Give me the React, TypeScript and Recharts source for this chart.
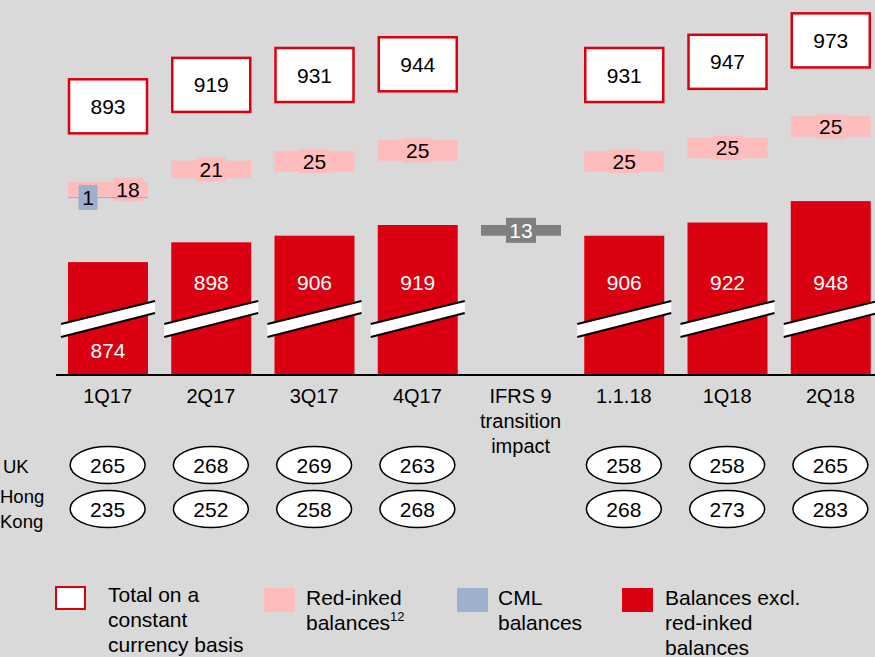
import { BarChart, Bar, XAxis, YAxis } from 'recharts';

const categories = ['1Q17', '2Q17', '3Q17', '4Q17', 'IFRS 9\ntransition\nimpact', '1.1.18', '1Q18', '2Q18'];
const balances = [874, 898, 906, 919, null, 906, 922, 948];
const cmlBalances = [1, null, null, null, null, null, null, null];
const redInked = [18, 21, 25, 25, null, 25, 25, 25];
const totals = [893, 919, 931, 944, null, 931, 947, 973];
const ifrsImpact = [null, null, null, null, -13, null, null, null];
const ukValues = [265, 268, 269, 263, null, 258, 258, 265];
const hkValues = [235, 252, 258, 268, null, 268, 273, 283];

// broken axis: the scale only shows the top of each bar, the stacked
// pieces float above it with fixed visual gaps
const AXIS_MIN = 737;
const AXIS_MAX = 1192;
const GAP_PINK = 78;
const GAP_TOTAL = 58;
const BOX_H = 68;

const RED = '#db0011';
const PINK = '#ffbcbc';
const BLUE = '#9eb0cd';
const GREY = '#7f7f7f';
const BG = '#d9d9d9';
const FONT = '"Liberation Sans", Arial, sans-serif';
const NUM_SIZE = 21;

const data = categories.map((name, i) => {
  const base = balances[i];
  const cml = cmlBalances[i] ?? 0;
  const pinkLo = base != null ? base + GAP_PINK + cml : null;
  const pinkHi = pinkLo != null && redInked[i] != null ? pinkLo + (redInked[i] as number) : null;
  const totLo = pinkHi != null ? pinkHi + GAP_TOTAL : null;
  const prev = i > 0 ? balances[i - 1] : null;
  return {
    name,
    balance: base,
    cml: cmlBalances[i],
    redInked: redInked[i],
    total: totals[i],
    ifrs: ifrsImpact[i],
    cmlRange: cmlBalances[i] != null && base != null ? [base + GAP_PINK, base + GAP_PINK + cml] : null,
    pinkRange: pinkLo != null && pinkHi != null ? [pinkLo, pinkHi] : null,
    totalRange: totLo != null ? [totLo, totLo + BOX_H] : null,
    ifrsRange: ifrsImpact[i] != null && prev != null ? [prev + (ifrsImpact[i] as number), prev] : null,
    uk: ukValues[i],
    hk: hkValues[i],
  };
});

function box(props: any) {
  const top = Math.min(props.y, props.y + props.height);
  const h = Math.abs(props.height);
  return { x: props.x, top, h, w: props.width, cx: props.x + props.width / 2, cy: top + h / 2 };
}

function RedShape(props: any) {
  const { x, top, h, w, cx } = box(props);
  const base = top + h;
  const labelY = top > base - 118 ? base - 25 : base - 93;
  const l = x - 7;
  const r = x + w + 7;
  return (
    <g>
      <rect x={x} y={top} width={w} height={h} fill={RED} />
      <polygon points={`${l},${base - 51} ${r},${base - 74} ${r},${base - 62} ${l},${base - 38}`} fill="#fff" />
      <line x1={l} y1={base - 51} x2={r} y2={base - 74} stroke="#000" strokeWidth={2} />
      <line x1={l} y1={base - 38} x2={r} y2={base - 62} stroke="#000" strokeWidth={2} />
      <text x={cx} y={labelY} fill="#fff" fontSize={NUM_SIZE} textAnchor="middle" dominantBaseline="central" fontFamily={FONT}>
        {props.payload.balance}
      </text>
    </g>
  );
}

function PinkShape(props: any) {
  const { x, top, h, w, cx, cy } = box(props);
  const lx = props.payload.cml ? cx + 20 : cx;
  return (
    <g>
      <rect x={x} y={top} width={w} height={h} fill={PINK} />
      <rect x={lx - 15} y={cy - 12} width={30} height={24} fill={PINK} />
      <text x={lx} y={cy} fill="#000" fontSize={NUM_SIZE} textAnchor="middle" dominantBaseline="central" fontFamily={FONT}>
        {props.payload.redInked}
      </text>
    </g>
  );
}

function CmlShape(props: any) {
  const { x, top, h, w, cx, cy } = box(props);
  return (
    <g>
      <rect x={x} y={top} width={w} height={Math.max(h, 1.2)} fill={BLUE} />
      <rect x={cx - 29.5} y={cy - 12.5} width={19} height={25} fill={BLUE} />
      <text x={cx - 20} y={cy} fill="#000" fontSize={NUM_SIZE} textAnchor="middle" dominantBaseline="central" fontFamily={FONT}>
        {props.payload.cml}
      </text>
    </g>
  );
}

function TotalShape(props: any) {
  const { x, top, h, w, cx, cy } = box(props);
  return (
    <g>
      <rect x={x + 1} y={top + 1} width={w - 2} height={h - 2} fill="#fff" stroke={RED} strokeWidth={2.5} />
      <text x={cx} y={cy} fill="#000" fontSize={NUM_SIZE} textAnchor="middle" dominantBaseline="central" fontFamily={FONT}>
        {props.payload.total}
      </text>
    </g>
  );
}

function IfrsShape(props: any) {
  const { x, top, h, w, cx, cy } = box(props);
  return (
    <g>
      <rect x={x} y={top} width={w} height={h} fill={GREY} />
      <rect x={cx - 15} y={cy - 12.5} width={30} height={25} fill={GREY} />
      <text x={cx} y={cy} fill="#fff" fontSize={NUM_SIZE} textAnchor="middle" dominantBaseline="central" fontFamily={FONT}>
        {Math.abs(props.payload.ifrs)}
      </text>
    </g>
  );
}

function CategoryTick(props: any) {
  const { x, y, payload, index } = props;
  const lines = String(payload.value).split('\n');
  const uk = ukValues[index];
  const hk = hkValues[index];
  return (
    <g fontFamily={FONT}>
      {lines.map((t, k) => (
        <text key={k} x={x} y={y + 21 + k * 25} fill="#000" fontSize={20} textAnchor="middle" dominantBaseline="central">
          {t}
        </text>
      ))}
      {uk != null && (
        <g>
          <ellipse cx={x} cy={y + 90} rx={37.5} ry={18.5} fill="#fff" stroke="#000" strokeWidth={1.5} />
          <text x={x} y={y + 90} fontSize={NUM_SIZE} textAnchor="middle" dominantBaseline="central" fill="#000">{uk}</text>
        </g>
      )}
      {hk != null && (
        <g>
          <ellipse cx={x} cy={y + 134} rx={37.5} ry={18.5} fill="#fff" stroke="#000" strokeWidth={1.5} />
          <text x={x} y={y + 134} fontSize={NUM_SIZE} textAnchor="middle" dominantBaseline="central" fill="#000">{hk}</text>
        </g>
      )}
    </g>
  );
}

const legendItems = [
  { icon: { left: 55, top: 586, fill: '#fff', border: `2.5px solid ${RED}` }, textLeft: 108, textTop: 582, lines: ['Total on a', 'constant', 'currency basis'] },
  { icon: { left: 264, top: 588, fill: PINK, border: 'none' }, textLeft: 306, textTop: 585, lines: ['Red-inked', 'balances'] },
  { icon: { left: 457, top: 588, fill: BLUE, border: 'none' }, textLeft: 498, textTop: 585, lines: ['CML', 'balances'] },
  { icon: { left: 622, top: 588, fill: RED, border: 'none' }, textLeft: 665, textTop: 585, lines: ['Balances excl.', 'red-inked', 'balances'] },
];

export default function App() {
  return (
    <div style={{ position: 'absolute', left: 0, top: 0, width: 875, height: 657, overflow: 'hidden', background: BG, fontFamily: FONT }}>
      <BarChart width={890} height={657} data={data} margin={{ top: 0, right: 8, bottom: 252, left: 56 }}>
        <YAxis hide domain={[AXIS_MIN, AXIS_MAX]} allowDataOverflow type="number" />
        <XAxis
          xAxisId="main"
          dataKey="name"
          height={30}
          tickLine={false}
          tickSize={0}
          tickMargin={0}
          interval={0}
          axisLine={{ stroke: '#000', strokeWidth: 2 }}
          tick={<CategoryTick />}
        />
        <XAxis xAxisId="cml" dataKey="name" hide height={0} />
        <XAxis xAxisId="pink" dataKey="name" hide height={0} />
        <XAxis xAxisId="total" dataKey="name" hide height={0} />
        <XAxis xAxisId="ifrs" dataKey="name" hide height={0} />
        <Bar xAxisId="main" dataKey="balance" barSize={80} shape={<RedShape />} isAnimationActive={false} />
        <Bar xAxisId="pink" dataKey="pinkRange" barSize={80} shape={<PinkShape />} isAnimationActive={false} />
        <Bar xAxisId="cml" dataKey="cmlRange" barSize={80} shape={<CmlShape />} isAnimationActive={false} />
        <Bar xAxisId="total" dataKey="totalRange" barSize={80} shape={<TotalShape />} isAnimationActive={false} />
        <Bar xAxisId="ifrs" dataKey="ifrsRange" barSize={80} shape={<IfrsShape />} isAnimationActive={false} />
      </BarChart>

      <div style={{ position: 'absolute', left: 3, top: 454, fontSize: 18.5, lineHeight: '25px', color: '#000' }}>UK</div>
      <div style={{ position: 'absolute', left: 0, top: 484, fontSize: 18.5, lineHeight: '25px', color: '#000' }}>
        Hong<br />Kong
      </div>

      {legendItems.map((it, i) => (
        <div key={i}>
          <div
            style={{
              position: 'absolute',
              left: it.icon.left,
              top: it.icon.top,
              width: 31,
              height: 24,
              boxSizing: 'border-box',
              background: it.icon.fill,
              border: it.icon.border,
            }}
          />
          <div style={{ position: 'absolute', left: it.textLeft, top: it.textTop, fontSize: 21, lineHeight: '25px', color: '#000', whiteSpace: 'nowrap' }}>
            {it.lines.map((t, k) => (
              <div key={k}>
                {t}
                {i === 1 && k === 1 && <sup style={{ fontSize: 13, verticalAlign: 'top', lineHeight: '14px' }}>12</sup>}
              </div>
            ))}
          </div>
        </div>
      ))}
    </div>
  );
}
